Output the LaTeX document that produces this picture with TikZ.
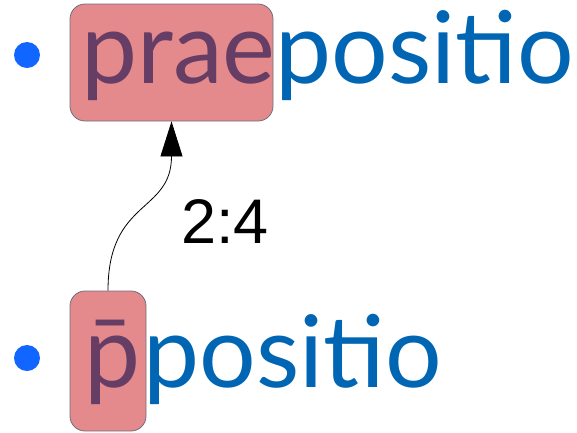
\documentclass[tikz,border=0pt]{standalone}
\usepackage{fontspec}
\setmainfont{Lato}
\newfontfamily\arialfont{Liberation Sans}
\usetikzlibrary{arrows.meta}
\definecolor{txtblue}{HTML}{0066B3}
\definecolor{bulblue}{HTML}{1166FF}
\definecolor{hlred}{HTML}{CC1519}
\definecolor{hlborder}{HTML}{6E6E7E}
\begin{document}
\begin{tikzpicture}[x=1pt,y=-1pt,
  word/.style={inner sep=0pt, anchor=base west, text=txtblue, font=\fontsize{100}{100}\selectfont},
  hl/.style={draw=hlborder, fill=hlred, fill opacity=0.5, draw opacity=1, rounded corners=15pt, inner sep=0pt, line width=0.8pt},
  bul/.style={circle, fill=bulblue, inner sep=0pt, minimum size=26pt},
  link/.style={line width=0.8pt, -{Triangle[length=35pt,width=22pt]}},
  lab/.style={font=\arialfont\fontsize{63}{63}\selectfont, inner sep=0pt, anchor=base west}]
\useasboundingbox (0,0) rectangle (577,432);
\node[bul] (b1) at (27,55) {};
\node[bul] (b2) at (27,358) {};
\node[word] (w1) at (81,83) {praepositio};
\node[word] (w2) at (84,387) {p̄\kern3pt positio};
\node[hl, minimum width=203pt, minimum height=117pt] (h1) at (171.5,62.5) {};
\node[hl, minimum width=76pt, minimum height=140pt] (h2) at (108,361) {};
\draw[link] (h2.north) .. controls +(0,-92) and +(0,92) .. (h1.south);
\node[lab] (l) at (181,243) {2:4};
\end{tikzpicture}
\end{document}
